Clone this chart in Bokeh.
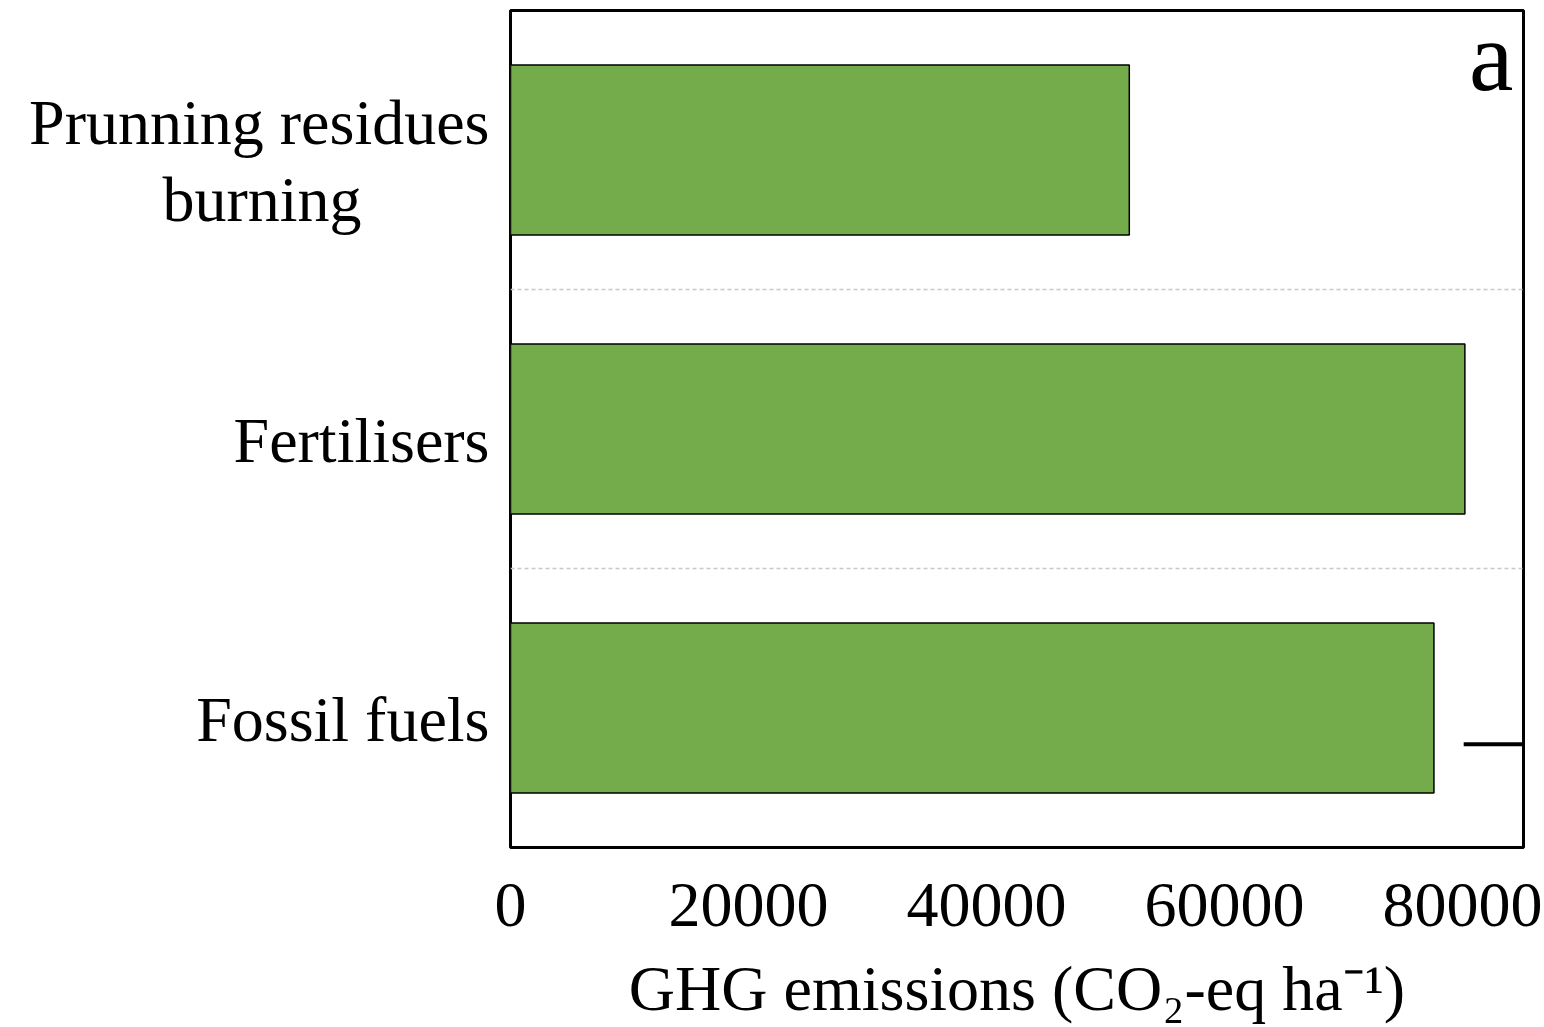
from bokeh.plotting import figure
from bokeh.models import Range1d, FixedTicker, Label
from bokeh.embed import file_html
from bokeh.resources import INLINE

# --- data -------------------------------------------------------------
# the second line of the first name is padded with no-break spaces so it
# sits centred under the first line of the right-aligned label
categories = ["Prunning residues\nburning" + "\u00a0" * 8, "Fertilisers", "Fossil fuels"]
emissions = [52000, 80200, 77600]          # CO2-eq per ha
x_ticks = [0, 20000, 40000, 60000, 80000]
x_title = "GHG emissions (CO\u2082-eq ha\u207b\u00b9)"
panel_tag = "a"
# short horizontal rule near the Fossil fuels bar
rule_x = [80100]
rule_y = [0.37]

FONT = "Liberation Serif"
GREEN = "#74AC4B"

# 80000 units span 952 px; frame is 1013 px wide
PX_PER_UNIT = 952 / 80000
x_end = 1013 / PX_PER_UNIT
n = len(categories)
y_pos = [n - 0.5 - i for i in range(n)]
# category labels sit a little below the band centre
label_pos = [round(c - 0.04, 2) for c in y_pos]

p = figure(width=1544, height=1027, output_backend="svg", toolbar_location=None,
           x_range=Range1d(0, x_end), y_range=Range1d(0, n),
           min_border_left=510, min_border_right=21,
           min_border_top=10, min_border_bottom=180)
p.outline_line_color = "black"
p.outline_line_width = 3
p.background_fill_color = "white"
p.border_fill_color = "white"
p.xgrid.visible = False

# dotted separators between category bands
p.ygrid.ticker = FixedTicker(ticks=list(range(1, n)))
p.ygrid.grid_line_color = "#c8c8c8"
p.ygrid.grid_line_width = 1.5
p.ygrid.grid_line_dash = "4 3"

# bars
p.hbar(y=y_pos, left=0, right=emissions, height=0.61,
       fill_color=GREEN, line_color="black", line_width=1.5)

# rule near the right edge
p.segment(x0=rule_x, x1=[x_end] * len(rule_x), y0=rule_y, y1=rule_y,
          line_color="black", line_width=4)

# x axis
ax = p.xaxis[0]
ax.ticker = FixedTicker(ticks=x_ticks)
ax.axis_line_color = None
ax.major_tick_line_color = None
ax.minor_tick_line_color = None
ax.major_label_text_font = FONT
ax.major_label_text_font_size = "64px"
ax.major_label_text_color = "black"
ax.major_label_standoff = 30
ax.axis_label = x_title
ax.axis_label_text_font = FONT
ax.axis_label_text_font_size = "64px"
ax.axis_label_text_font_style = "normal"
ax.axis_label_text_color = "black"
ax.axis_label_standoff = 24

# y axis: category names
ay = p.yaxis[0]
ay.ticker = FixedTicker(ticks=label_pos)
ay.major_label_overrides = {pos: cat for pos, cat in zip(label_pos, categories)}
ay.axis_line_color = None
ay.major_tick_line_color = None
ay.minor_tick_line_color = None
ay.major_label_text_font = FONT
ay.major_label_text_font_size = "64px"
ay.major_label_text_color = "black"
ay.major_label_text_line_height = 1.08
ay.major_label_standoff = 15

# panel tag
p.add_layout(Label(x=x_end, y=n, x_offset=-10, y_offset=-46, text=panel_tag,
                   text_align="right", text_baseline="alphabetic",
                   text_font=FONT, text_font_size="100px", text_color="black"))

open("out.html", "w").write(file_html(p, INLINE))
